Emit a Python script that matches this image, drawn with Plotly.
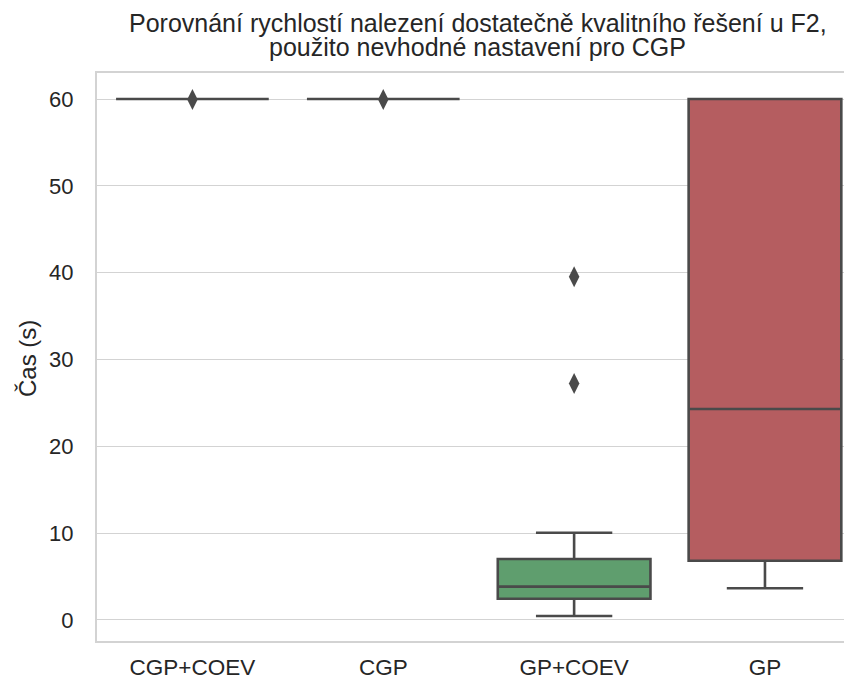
import plotly.graph_objects as go

categories = ["CGP+COEV", "CGP", "GP+COEV", "GP"]
q1 = [60.0, 60.0, 2.45, 6.83]
median = [60.0, 60.0, 3.84, 24.3]
q3 = [60.0, 60.0, 7.02, 60.0]
lower_fence = [60.0, 60.0, 0.46, 3.65]
upper_fence = [60.0, 60.0, 10.05, 60.0]
outlier_cats = ["CGP+COEV", "CGP", "GP+COEV", "GP+COEV"]
outlier_vals = [59.95, 59.95, 39.53, 27.25]
colors = ["#5975a4", "#cc8963", "#5f9e6e", "#b55d60"]
title_lines = ["Porovnání rychlostí nalezení dostatečně kvalitního řešení u F2,",
               "použito nevhodné nastavení pro CGP"]
y_label = "Čas (s)"

LINE = "#4a4a4a"
GRID = "#d3d3d3"
TXT = "#262626"
FONT = "Liberation Sans, Arial, sans-serif"

W, H = 844, 672
L, T, B = 89, 65, 39
PW, PH = W - L, H - T - B

fig = go.Figure()
for i, c in enumerate(categories):
    fig.add_trace(go.Box(
        x=[c], q1=[q1[i]], median=[median[i]], q3=[q3[i]],
        lowerfence=[lower_fence[i]], upperfence=[upper_fence[i]],
        fillcolor=colors[i], line=dict(color=LINE, width=2.6),
        width=0.8, whiskerwidth=0.5, boxpoints=False, showlegend=False,
        hoverinfo="skip",
    ))

fig.add_trace(go.Scatter(
    x=outlier_cats, y=outlier_vals, mode="markers",
    marker=dict(symbol="diamond-tall", size=15, color=LINE, line=dict(width=0)),
    showlegend=False, hoverinfo="skip",
))

annotations = [
    dict(text=title_lines[0], xref="paper", yref="paper",
         x=(470 - L) / PW, y=(H - B - 15) / PH, xanchor="center", yanchor="middle",
         showarrow=False, font=dict(family=FONT, size=25, color=TXT)),
    dict(text=title_lines[1], xref="paper", yref="paper",
         x=(470 - L) / PW, y=(H - B - 39) / PH, xanchor="center", yanchor="middle",
         showarrow=False, font=dict(family=FONT, size=25, color=TXT)),
    dict(text=y_label, textangle=-90, xref="paper", yref="paper",
         x=(19 - L) / PW, y=(H - B - 351) / PH, xanchor="center", yanchor="middle",
         showarrow=False, font=dict(family=FONT, size=24, color=TXT)),
]

fig.update_layout(
    width=W, height=H,
    margin=dict(l=L, r=0, t=T, b=B, autoexpand=False),
    paper_bgcolor="white", plot_bgcolor="white",
    font=dict(family=FONT, size=22, color=TXT),
    xaxis=dict(
        type="category", categoryorder="array", categoryarray=categories,
        range=[-0.5, 3.456], showgrid=False, zeroline=False,
        showline=True, linecolor=GRID, linewidth=2, mirror=True,
        ticks="", ticklabelstandoff=5, automargin=False,
        tickfont=dict(family=FONT, size=22.5, color=TXT),
    ),
    yaxis=dict(
        range=[-2.42, 63.0], tickvals=[0, 10, 20, 30, 40, 50, 60],
        showgrid=True, gridcolor=GRID, gridwidth=1.3, zeroline=False,
        showline=True, linecolor=GRID, linewidth=2, mirror=False,
        ticks="", ticklabelstandoff=17, automargin=False,
        tickfont=dict(family=FONT, size=22, color=TXT),
    ),
    annotations=annotations,
)

fig.write_html("out.html")
